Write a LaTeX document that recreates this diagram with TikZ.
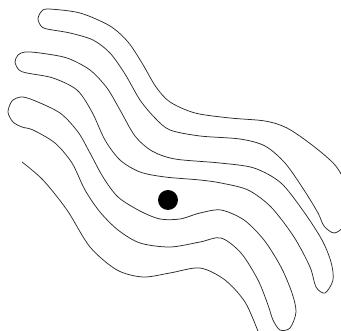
\documentclass[tikz,border=0pt]{standalone}
\usepackage{tikz}
\usetikzlibrary{calc}
\definecolor{inkline}{HTML}{2A2A2A}

\begin{document}
\begin{tikzpicture}[x=1pt,y=-1pt,
    loopline/.style={line width=0.75pt, inkline, line join=round},
    defect/.style={fill=black}]
  \useasboundingbox (0,0) rectangle (341,331);
  \clip (0,0) rectangle (341,331);
  % top loop, its right end runs off the frame
  \draw[loopline] plot[smooth cycle, tension=0.5] coordinates {
    (48,9) (80,13) (110,26) (128,42) (142,63) (156,87) (170,102) (195,113) (230,118) (265,121)
    (287,128) (312,145) (335,165) (346,185) (349,208) (344,226) (334,233) (324,226) (318,213)
    (304,190) (285,163) (265,146) (240,139) (200,136) (170,130) (155,118) (140,100) (125,74)
    (110,53) (93,40) (70,33) (47,29) (41,26) (38,19) (41,12)};
  % middle loop
  \draw[loopline] plot[smooth cycle, tension=0.5] coordinates {
    (25,52) (40,53) (67,58) (90,70) (107,88) (120,110) (135,136) (152,151) (175,159) (220,163)
    (254,168) (281,183) (304,212) (322,240) (331,262) (333,280) (325,293) (316,287) (310,267)
    (294,237) (271,207) (248,190) (221,183) (200,180) (165,177) (140,172) (120,160) (105,140)
    (92,112) (77,90) (53,78) (27,73) (19,70) (15,62) (18,55)};
  % lower loop, bent round the particle
  \draw[loopline] plot[smooth cycle, tension=0.5] coordinates {
    (21,97) (33,100) (60,113) (78,132) (90,153) (103,177) (118,197) (140,211) (160,219) (180,219)
    (200,213) (221,210) (244,220) (264,240) (281,267) (292,293) (296,312) (290,328) (280,330)
    (273,320) (268,305) (258,280) (241,253) (221,238) (200,242) (170,247) (140,243) (118,230)
    (100,212) (85,190) (72,163) (55,143) (33,130) (22,127) (13,122) (8,112) (12,101)};
  % open line at the bottom
  \draw[loopline] plot[smooth, tension=0.5] coordinates {
    (22,162) (43,180) (67,210) (90,247) (117,270) (143,277) (170,273) (200,268) (225,280)
    (245,302) (258,331) (262,340)};
  % particle
  \coordinate (particle) at (168,200);
  \fill[defect] (particle) circle (10);
\end{tikzpicture}
\end{document}
